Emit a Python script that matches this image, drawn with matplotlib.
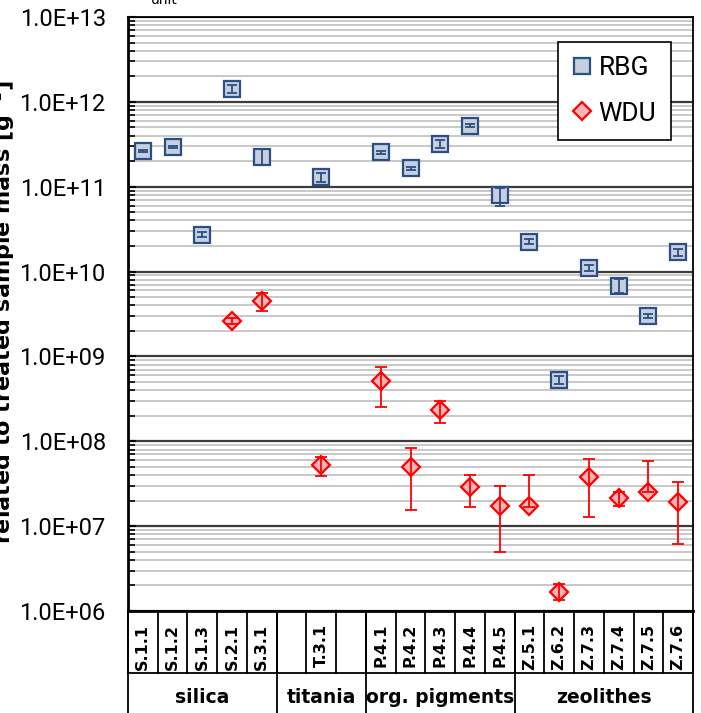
import numpy as np
import matplotlib
matplotlib.use('Agg')
import matplotlib.pyplot as plt
from matplotlib.ticker import FuncFormatter, LogLocator, NullFormatter

# sample names (blank slots keep the titania group centred)
categories = ['S.1.1', 'S.1.2', 'S.1.3', 'S.2.1', 'S.3.1',
              '', 'T.3.1', '',
              'P.4.1', 'P.4.2', 'P.4.3', 'P.4.4', 'P.4.5',
              'Z.5.1', 'Z.6.2', 'Z.7.3', 'Z.7.4', 'Z.7.5', 'Z.7.6']
group_names = ['silica', 'titania', 'org. pigments', 'zeolithes']
group_sizes = [5, 3, 5, 6]

nan = np.nan
# RBG values with lower / upper bounds
rbg = [2.66e11, 2.92e11, 2.73e10, 1.42e12, 2.26e11,
       nan, 1.29e11, nan,
       2.55e11, 1.65e11, 3.22e11, 5.2e11, 8.0e10,
       2.26e10, 5.26e8, 1.09e10, 6.8e9, 3.0e9, 1.69e10]
rbg_lo = [2.59e11, 2.84e11, 2.58e10, 1.27e12, 1.79e11,
          nan, 1.14e11, nan,
          2.45e11, 1.58e11, 2.89e11, 4.99e11, 5.9e10,
          2.09e10, 4.72e8, 1.01e10, 5.63e9, 2.84e9, 1.54e10]
rbg_hi = [2.73e11, 3.0e11, 2.89e10, 1.59e12, 2.77e11,
          nan, 1.46e11, nan,
          2.66e11, 1.72e11, 3.59e11, 5.42e11, 9.6e10,
          2.45e10, 5.86e8, 1.18e10, 8.2e9, 3.17e9, 1.85e10]

# WDU values with lower / upper bounds
wdu = [nan, nan, nan, 2.6e9, 4.56e9,
       nan, 5.19e7, nan,
       5.07e8, 4.97e7, 2.33e8, 2.86e7, 1.74e7,
       1.71e7, 1.69e6, 3.75e7, 2.12e7, 2.54e7, 1.94e7]
wdu_lo = [nan, nan, nan, 2.4e9, 3.47e9,
          nan, 3.86e7, nan,
          2.52e8, 1.53e7, 1.65e8, 1.68e7, 4.95e6,
          1.68e7, 1.36e6, 1.27e7, 1.75e7, 2.5e7, 6.2e6]
wdu_hi = [nan, nan, nan, 2.8e9, 5.6e9,
          nan, 6.45e7, nan,
          7.6e8, 8.37e7, 3.02e8, 4.04e7, 2.99e7,
          4.0e7, 2.08e6, 6.22e7, 2.56e7, 5.89e7, 3.27e7]

rbg = np.array(rbg); rbg_lo = np.array(rbg_lo); rbg_hi = np.array(rbg_hi)
wdu = np.array(wdu); wdu_lo = np.array(wdu_lo); wdu_hi = np.array(wdu_hi)

x = np.arange(len(categories)) + 0.5

fig = plt.figure(figsize=(7.01, 7.13), dpi=100)
ax = fig.add_axes([128 / 701, 1 - 611 / 713, 565 / 701, 594 / 713])

blue_edge = '#2b4f83'
blue_face = '#c5cfdf'
red_edge = '#ff0000'
red_face = '#f6b3b6'

h1, = ax.plot(x, rbg, ls='none', marker='s', ms=11, mfc=blue_face, mec=blue_edge,
              mew=1.6, label='RBG', zorder=3)
ax.errorbar(x, rbg, yerr=[rbg - rbg_lo, rbg_hi - rbg], fmt='none', ecolor=blue_edge,
            elinewidth=1.3, capsize=3.5, capthick=1.3, zorder=4)
h2, = ax.plot(x, wdu, ls='none', marker='D', ms=9, mfc=red_face, mec=red_edge,
              mew=1.6, label='WDU', zorder=3)
ax.errorbar(x, wdu, yerr=[wdu - wdu_lo, wdu_hi - wdu], fmt='none', ecolor=red_edge,
            elinewidth=1.3, capsize=4, capthick=1.3, zorder=4)

ax.set_yscale('log')
ax.set_ylim(1e6, 1e13)
ax.set_xlim(0, len(categories))
ax.yaxis.set_major_locator(LogLocator(base=10, numticks=20))
ax.yaxis.set_minor_locator(LogLocator(base=10, subs=np.arange(2, 10), numticks=100))
ax.yaxis.set_major_formatter(FuncFormatter(lambda v, p: f'{v:.1E}'))
ax.yaxis.set_minor_formatter(NullFormatter())
ax.set_axisbelow(True)
ax.yaxis.grid(True, which='major', color='#3c3c3c', lw=1.6)
ax.yaxis.grid(True, which='minor', color='#c4c4c4', lw=1.3)
ax.tick_params(axis='y', which='major', direction='in', length=6, width=1.5,
               pad=16, labelsize=17)
ax.tick_params(axis='y', which='minor', direction='in', length=5, width=1.2)
for t in ax.get_yticklabels():
    t.set_fontfamily('Roboto')

ax.set_xticks(x)
ax.set_xticklabels(categories, rotation=90, fontweight='bold', fontsize=11.5,
                   fontfamily='DejaVu Sans')
ax.tick_params(axis='x', length=0, pad=9)

for side in ['left', 'bottom']:
    ax.spines[side].set_linewidth(2)
for side in ['top', 'right']:
    ax.spines[side].set_linewidth(1.3)

# separators below the axis
tr = ax.get_xaxis_transform()
row_bottom = -0.104
for b in range(len(categories) + 1):
    ax.plot([b, b], [0, row_bottom], transform=tr, color='black', lw=1.3, clip_on=False)
edges = np.concatenate([[0], np.cumsum(group_sizes)])
for b in edges:
    ax.plot([b, b], [0, -0.2], transform=tr, color='black', lw=1.3, clip_on=False)
ax.plot([0, len(categories)], [row_bottom, row_bottom], transform=tr, color='black',
        lw=1.3, clip_on=False)
for name, a, b in zip(group_names, edges[:-1], edges[1:]):
    ax.text((a + b) / 2, -0.145, name, transform=tr, ha='center', va='center',
            fontsize=13.5, fontweight='bold', fontfamily='DejaVu Sans')

leg = ax.legend(handles=[h1, h2], loc='upper right', bbox_to_anchor=(0.961, 0.958),
                fontsize=19, fancybox=False, edgecolor='black', framealpha=1,
                labelspacing=0.8, handlelength=0.7, handletextpad=0.3,
                borderpad=0.55, borderaxespad=0)
leg.get_frame().set_linewidth(1.2)
for t in leg.get_texts():
    t.set_fontfamily('Roboto')

fig.text(0.005, 0.562, 'related to treated sample mass [g$^{-1}$]', rotation=90,
         ha='center', va='center', fontsize=16, fontweight='bold')
fig.text(0.235, 1.0, 'unit', ha='center', va='center', fontsize=10)

fig.savefig('out.png', dpi=100)
